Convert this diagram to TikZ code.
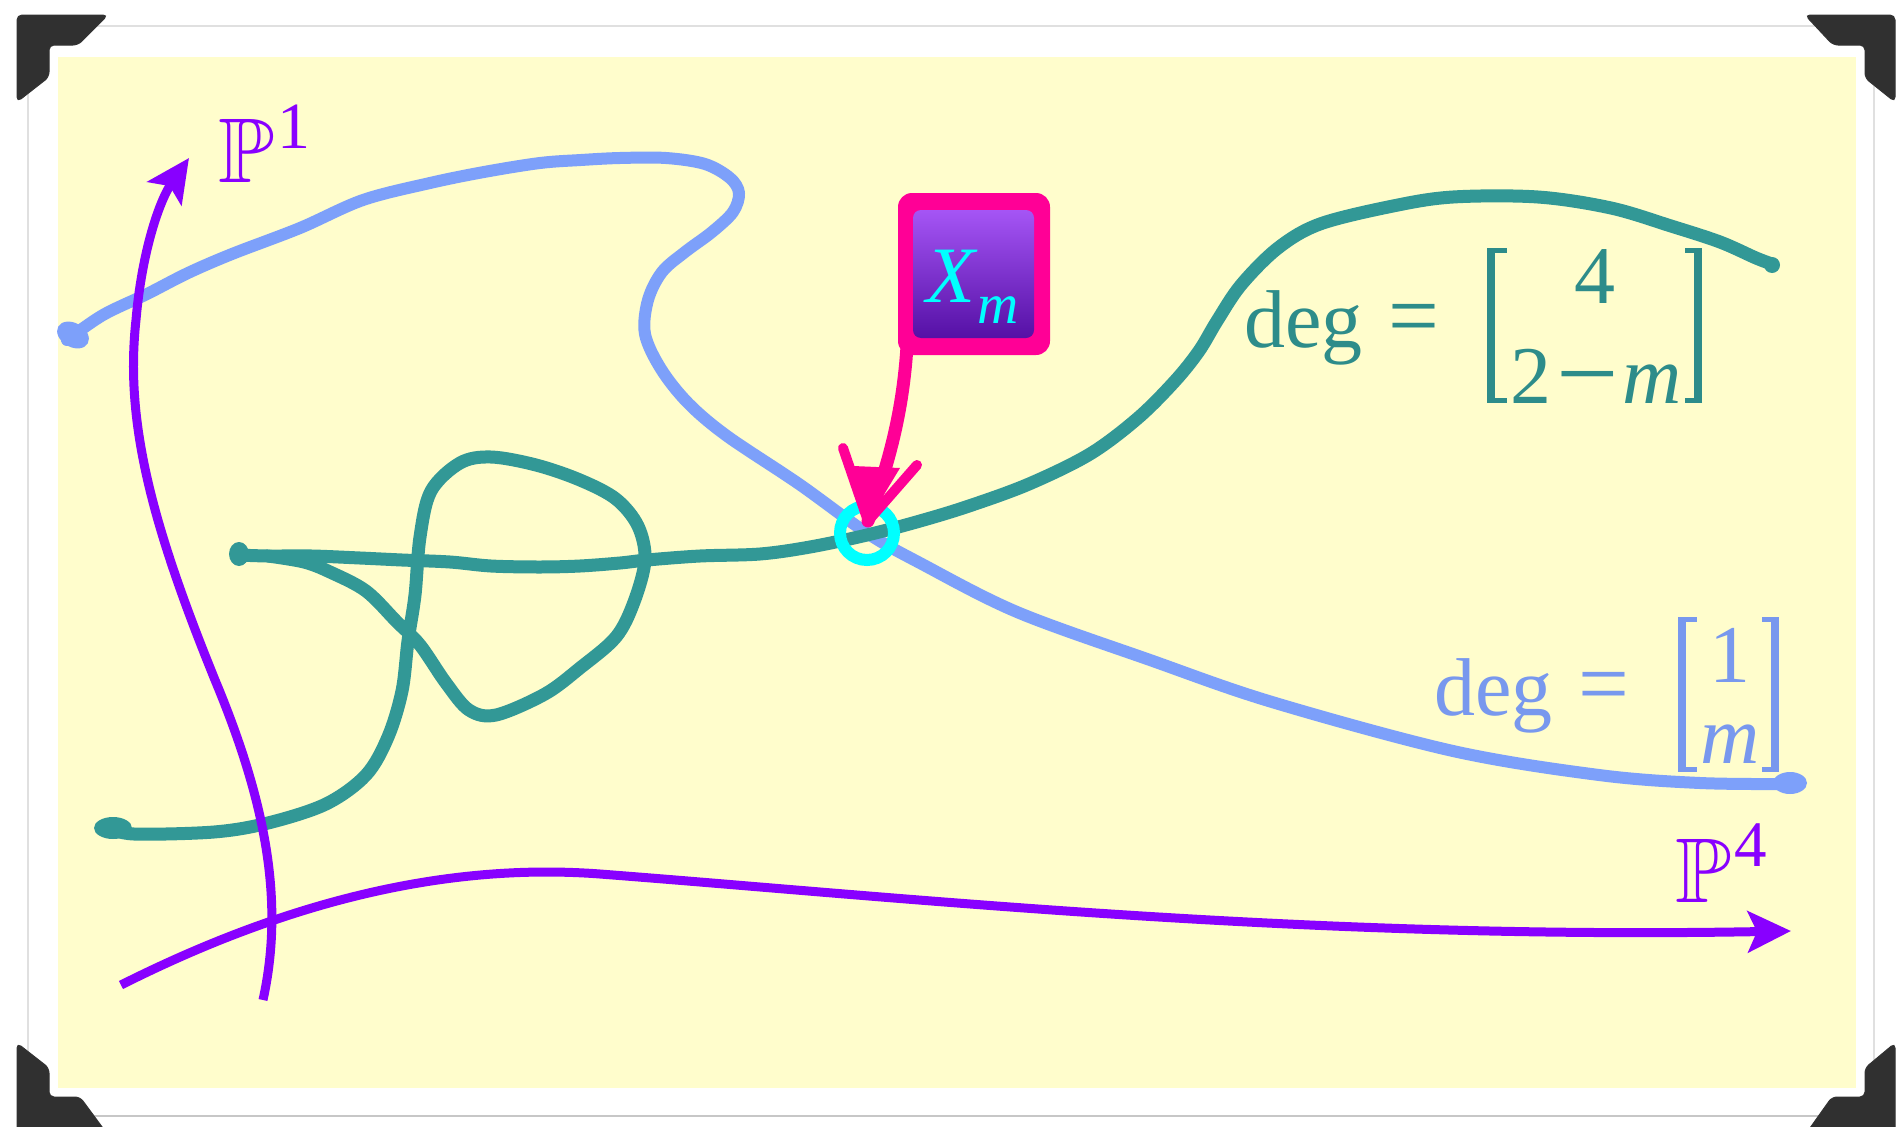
\documentclass[tikz,border=0pt]{standalone}
\usepackage{amssymb}
\usepackage{fontspec}
\setmainfont{Liberation Serif}
\usetikzlibrary{arrows.meta,shadings}
\definecolor{paper}{RGB}{255,253,204}
\definecolor{tealc}{RGB}{50,152,150}
\definecolor{tealtext}{RGB}{45,140,138}
\definecolor{bluec}{RGB}{125,160,250}
\definecolor{bluetext}{RGB}{120,152,238}
\definecolor{purp}{RGB}{136,0,255}
\definecolor{pinkc}{RGB}{255,0,150}
\definecolor{cyanc}{RGB}{0,255,255}
\definecolor{boxtop}{RGB}{165,85,245}
\definecolor{boxbot}{RGB}{85,16,165}
\definecolor{cornerc}{RGB}{48,48,48}
\newcommand{\eqsign}{\scalebox{1.1}[1.15]{=}}
\newcommand{\minussign}{\raisebox{-6pt}{\scalebox{1.35}[1.3]{−}}}
\begin{document}
\begin{tikzpicture}[x=1pt,y=-1pt,
  wobbly/.style={line cap=round, line join=round},
  bluecurve/.style={draw=bluec, line width=12pt, wobbly},
  tealcurve/.style={draw=tealc, line width=13pt, wobbly},
  axisarrow/.style={draw=purp, line width=9pt, -{Stealth[length=43pt,width=41pt,inset=9pt]}},
  cornerbr/.style={fill=cornerc, draw=black!80, line width=1pt, rounded corners=5pt},
  lab/.style={inner sep=0pt, font=\fontsize{82}{98}\selectfont},
  plab/.style={anchor=base west, inner sep=0pt, text=purp, font=\fontsize{92}{100}\selectfont},
  bracketv/.style={line width=8pt},
  brackets/.style={line width=5pt}
]
\useasboundingbox (0,0) rectangle (1899,1127);
\fill[white] (0,0) rectangle (1899,1127);
% card
\draw[black!12, line width=1.5pt, fill=white] (28,26) rectangle (1874,1116);
\draw[black!22, line width=2pt] (28,1116) -- (1874,1116);
% paper
\fill[paper] (58,57) rectangle (1856,1088);
% corner brackets
\draw[cornerbr] (17,15) -- (108,15) -- (78,45) -- (49,45) -- (49,77) -- (17,102) -- cycle;
\draw[cornerbr] (1895,15) -- (1805,15) -- (1833,45) -- (1865,45) -- (1865,78) -- (1895,102) -- cycle;
\draw[cornerbr] (17,1135) -- (17,1043) -- (49,1068) -- (49,1097) -- (80,1097) -- (108,1135) -- cycle;
\draw[cornerbr] (1895,1135) -- (1895,1043) -- (1865,1068) -- (1865,1097) -- (1832,1097) -- (1805,1135) -- cycle;

% blue curve
\draw[bluecurve] plot[smooth, tension=0.55] coordinates {(67,340) (103,315) (147,294) (188,273) (232,254) (300,228) (363,200) (430,183) (484,172) (540,163) (581,160) (620,158) (666,158) (705,164) (730,178) (739,193) (733,212) (712,232) (685,252) (662,272) (648,300) (645,334) (661,369) (688,403) (727,436) (799,484) (867,533) (920,563) (1017,612) (1150,660) (1272,702) (1453,751) (1599,775) (1700,783) (1790,784)};
\fill[bluec, rotate around={-30:(73,335)}] (73,335) ellipse [x radius=17pt, y radius=12pt];
\fill[bluec] (1790,783) ellipse [x radius=17pt, y radius=11pt];

% teal loop curve
\draw[tealcurve] plot[smooth, tension=0.55] coordinates {(110,828) (134,834) (214,832) (268,823) (326,804) (366,775) (388,737) (402,691) (408,641) (415,595) (420,537) (431,491) (460,463) (491,457) (536,465) (580,480) (616,499) (638,526) (645,560) (634,602) (616,637) (580,668) (545,694) (496,715) (469,710) (446,683) (420,645) (397,622) (366,591) (330,572) (304,562) (268,556)};
\fill[tealc] (113,828) ellipse [x radius=19pt, y radius=11pt];
% teal main curve
\draw[tealcurve] plot[smooth, tension=0.55] coordinates {(238,555) (268,556) (312,556) (360,558) (402,560) (450,562) (491,566) (540,567) (580,566) (620,563) (647,560) (700,556) (760,554) (810,547) (867,535) (920,521) (969,506) (1029,484) (1090,454) (1138,418) (1175,381) (1199,351) (1217,321) (1241,285) (1278,248) (1320,224) (1393,206) (1453,197) (1538,197) (1611,208) (1671,226) (1720,242) (1756,258) (1772,264)};
\fill[tealc] (239,554) ellipse [x radius=10pt, y radius=12pt];
\fill[tealc] (1772,265) circle [radius=8pt];

% axes
\coordinate (p1start) at (263,1000);
\coordinate (p1end) at (189,158);
\coordinate (p4start) at (121,985);
\coordinate (p4end) at (1791,931);
\draw[axisarrow] (p1start) .. controls (285,900) and (265,800) .. (215,680) .. controls (150,520) and (125,420) .. (136,320) .. controls (142,250) and (160,200) .. (p1end);
\draw[axisarrow] (p4start) .. controls (280,905) and (440,862) .. (600,874) .. controls (900,897) and (1300,940) .. (p4end);
\node[plab] (p1) at (218,182) {$\mathbb{P}$\kern3pt\raisebox{34pt}{\fontsize{66}{70}\selectfont 1}};
\node[plab] (p4) at (1675,902) {$\mathbb{P}$\kern3pt\raisebox{36pt}{\fontsize{65}{70}\selectfont 4}};

% teal degree label
\node[lab, anchor=base west, text=tealtext] (degA) at (1244,347) {deg\kern26pt\eqsign};
\node[lab, anchor=base, text=tealtext] (degAtop) at (1595,303) {4};
\node[lab, anchor=base, text=tealtext] (degAbot) at (1596,403) {2\kern5pt\minussign\kern3pt\textit{m}};
\draw[tealtext, bracketv] (1491,248) -- (1491,403);
\draw[tealtext, brackets] (1487,250.5) -- (1507,250.5) (1487,400.5) -- (1507,400.5);
\draw[tealtext, bracketv] (1698,248) -- (1698,403);
\draw[tealtext, brackets] (1702,250.5) -- (1685,250.5) (1702,400.5) -- (1685,400.5);

% blue degree label
\node[lab, anchor=base west, text=bluetext] (degB) at (1434,715) {deg\kern26pt\eqsign};
\node[lab, anchor=base, text=bluetext] (degBtop) at (1730,682) {1};
\node[lab, anchor=base, text=bluetext] (degBbot) at (1730,763) {\textit{m}};
\draw[bluetext, bracketv] (1682,617) -- (1682,772);
\draw[bluetext, brackets] (1678,619.5) -- (1697,619.5) (1678,769.5) -- (1697,769.5);
\draw[bluetext, bracketv] (1775,617) -- (1775,772);
\draw[bluetext, brackets] (1779,619.5) -- (1762,619.5) (1779,769.5) -- (1762,769.5);

% intersection point
\node[circle, draw=cyanc, line width=12pt, minimum size=54pt, inner sep=0pt] (pt) at (867,533) {};
\coordinate (tip) at (868,521);

% X_m box
\node[fill=pinkc, rounded corners=14pt, minimum width=152pt, minimum height=162pt, inner sep=0pt] (xmframe) at (974,274) {};
\node[rounded corners=8pt, top color=boxtop, bottom color=boxbot, minimum width=121pt, minimum height=128pt, inner sep=0pt] (xmbox) at (973.5,274) {};
\node[anchor=base west, inner sep=0pt, text=cyanc, font=\fontsize{80}{90}\selectfont] (xmtext) at (926,302) {\textit{X}\raisebox{-21pt}{\fontsize{57}{60}\selectfont\textit{m}}};

% pink arrow
\draw[pinkc, line width=13pt, line cap=round] ([xshift=9pt,yshift=6pt]xmframe.south west) .. controls (902,420) and (886,470) .. (tip);
\fill[pinkc] (tip) -- (853,466) -- (900,468) -- cycle;
\draw[pinkc, line width=10pt, line cap=round, line join=round] (843,448) -- (tip) -- (917,465);
\end{tikzpicture}
\end{document}
